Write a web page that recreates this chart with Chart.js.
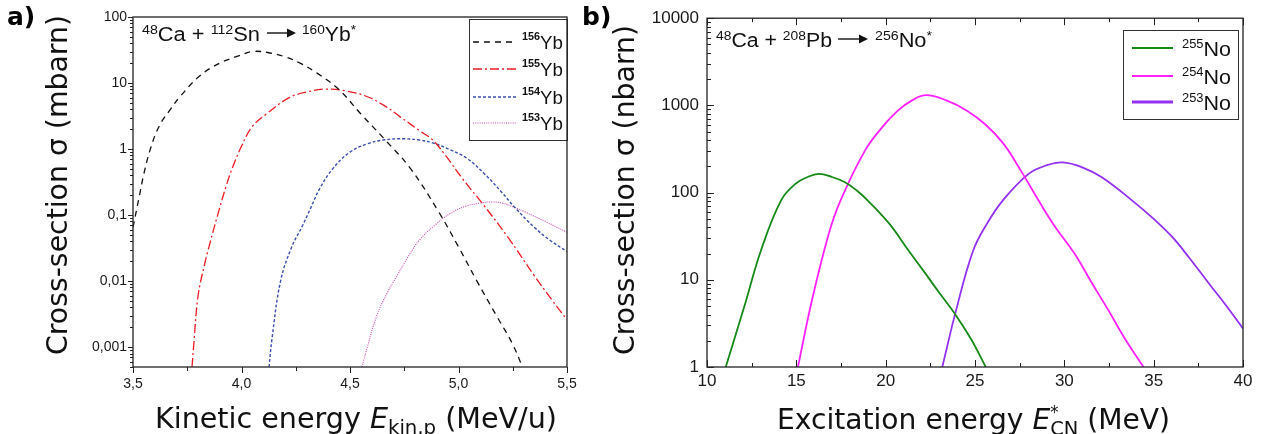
<!DOCTYPE html>
<html>
<head>
<meta charset="utf-8">
<script src="https://cdn.jsdelivr.net/npm/chart.js@4.4.1/dist/chart.umd.min.js"></script>
<style>
  html, body { margin: 0; padding: 0; background: #fff; }
  #wrap { position: relative; width: 1263px; height: 434px; overflow: hidden; }
  canvas { position: absolute; top: 0; }
  #chartA { left: 0; width: 590px; height: 434px; }
  #chartB { left: 590px; width: 673px; height: 434px; }
  .tag { position: absolute; top: 2px; font: bold 25px 'DejaVu Sans', sans-serif; color: #000; }
</style>
</head>
<body>
<div id="wrap">
  <canvas id="chartA" width="590" height="434"></canvas>
  <canvas id="chartB" width="673" height="434"></canvas>
  <div class="tag" style="left:7px">a)</div>
  <div class="tag" style="left:582px">b)</div>
</div>
<script>
// ---- panel a: 48Ca + 112Sn, cross-section in mbarn vs kinetic energy (MeV/u)
var yb156E     = [3.50, 3.53, 3.55, 3.58, 3.62, 3.67, 3.72, 3.81, 3.90, 3.99, 4.05, 4.12, 4.20, 4.27, 4.35, 4.45, 4.55, 4.66, 4.78, 4.91, 5.00, 5.085, 5.18, 5.25, 5.30];
var yb156Sigma = [0.065, 0.2, 0.42, 1.0, 2.2, 3.9, 6.4, 13, 20, 26, 30, 29, 25, 20, 14, 7.9, 3.4, 1.4, 0.5, 0.11, 0.033, 0.01, 0.0028, 0.0011, 0.00045];

var yb155E     = [3.772, 3.78, 3.80, 3.83, 3.855, 3.89, 3.93, 3.96, 4.00, 4.05, 4.12, 4.22, 4.30, 4.39, 4.48, 4.58, 4.66, 4.73, 4.82, 4.88, 4.94, 5.02, 5.11, 5.23, 5.35, 5.43, 5.50];
var yb155Sigma = [0.0005, 0.0011, 0.006, 0.018, 0.038, 0.1, 0.28, 0.54, 1.1, 2.2, 3.5, 6.0, 7.3, 8.1, 7.6, 6.2, 4.5, 3.1, 1.9, 1.38, 0.8, 0.35, 0.15, 0.045, 0.012, 0.0052, 0.0026];

var yb154E     = [4.127, 4.14, 4.18, 4.23, 4.28, 4.32, 4.36, 4.42, 4.50, 4.58, 4.66, 4.75, 4.82, 4.88, 4.96, 5.04, 5.12, 5.20, 5.26, 5.35, 5.42, 5.50];
var yb154Sigma = [0.0005, 0.0013, 0.01, 0.032, 0.068, 0.13, 0.25, 0.5, 0.9, 1.2, 1.38, 1.43, 1.37, 1.24, 0.98, 0.72, 0.42, 0.22, 0.13, 0.065, 0.042, 0.028];

var yb153E     = [4.555, 4.58, 4.62, 4.67, 4.72, 4.77, 4.82, 4.89, 4.96, 5.03, 5.10, 5.15, 5.20, 5.26, 5.31, 5.40, 5.50];
var yb153Sigma = [0.0005, 0.001, 0.0028, 0.0065, 0.0126, 0.024, 0.042, 0.07, 0.105, 0.135, 0.152, 0.158, 0.152, 0.13, 0.11, 0.08, 0.055];

var xTicksA = [3.5, 4.0, 4.5, 5.0, 5.5];
var xTickLabelsA = ['3,5', '4,0', '4,5', '5,0', '5,5'];
var yTicksA = [0.001, 0.01, 0.1, 1, 10, 100];
var yTickLabelsA = ['0,001', '0,01', '0,1', '1', '10', '100'];

// ---- panel b: 48Ca + 208Pb, cross-section in nbarn vs excitation energy (MeV)
var no255E     = [11.05, 12.07, 13.02, 14.14, 14.95, 15.6, 16.26, 17.0, 17.7, 18.4, 19.0, 20.2, 21.3, 22.2, 23.0, 23.9, 24.8, 25.6];
var no255Sigma = [1, 4.8, 21.7, 81, 126, 150, 164, 151, 132, 105, 81, 44, 21.4, 12, 7.1, 4.0, 2.05, 1];

var no254E     = [15.09, 15.87, 16.82, 17.47, 18.84, 19.8, 20.68, 21.5, 22.26, 23.4, 24.55, 25.6, 26.6, 27.6, 28.56, 29.5, 30.57, 31.5, 32.47, 33.4, 34.43];
var no254Sigma = [1, 5.8, 34, 81, 303, 560, 870, 1150, 1310, 1140, 870, 600, 362, 174, 81, 40, 20, 9.5, 4.46, 2.1, 1];

var no253E     = [23.17, 23.94, 24.9, 25.7, 26.55, 28.0, 29.0, 29.9, 31.0, 32.1, 33.8, 35.0, 36.0, 37.0, 38.2, 39.0, 40.0];
var no253Sigma = [1, 4.46, 21.7, 45, 81, 164, 205, 222, 195, 150, 81, 50, 31.6, 17.8, 8.5, 5.25, 2.77];

var xTicksB = [10, 15, 20, 25, 30, 35, 40];
var xTickLabelsB = ['10', '15', '20', '25', '30', '35', '40'];
var yTicksB = [1, 10, 100, 1000, 10000];
var yTickLabelsB = ['1', '10', '100', '1000', '10000'];

function pts(xs, ys) {
    return xs.map(function(x, i) { return { x: x, y: ys[i] }; });
}

// text made of pieces (superscripts, subscripts, italics), stretched to a target width
function drawRich(ctx, segs, x, y, target, rot) {
    var pos = [], cur = 0;
    segs.forEach(function(s) {
        ctx.font = s.f;
        s.w = ctx.measureText(s.t).width;
        pos.push(cur);
        if (!s.stay) cur += s.w;
    });
    var k = target ? target / cur : 1;
    ctx.save();
    ctx.translate(x, y);
    if (rot) ctx.rotate(rot);
    ctx.scale(k, 1);
    ctx.fillStyle = '#111';
    ctx.textAlign = 'left';
    ctx.textBaseline = 'alphabetic';
    segs.forEach(function(s, i) {
        ctx.font = s.f;
        ctx.fillText(s.t, pos[i], s.dy || 0);
    });
    ctx.restore();
}

function arrow(ctx, x1, x2, y) {
    ctx.save();
    ctx.strokeStyle = '#111';
    ctx.fillStyle = '#111';
    ctx.lineWidth = 1.4;
    ctx.beginPath();
    ctx.moveTo(x1, y);
    ctx.lineTo(x2 - 6, y);
    ctx.stroke();
    ctx.beginPath();
    ctx.moveTo(x2, y);
    ctx.lineTo(x2 - 9, y - 4.5);
    ctx.lineTo(x2 - 9, y + 4.5);
    ctx.closePath();
    ctx.fill();
    ctx.restore();
}

var TITLE = "29px 'DejaVu Sans', sans-serif";
var TITLE_IT = "italic 29px 'DejaVu Sans', sans-serif";
var TITLE_SUB = "20px 'DejaVu Sans', sans-serif";
var TITLE_STAR = "17px 'DejaVu Sans', sans-serif";

// frame, tick marks, legend and labels
var axisMarks = {
    id: 'axisMarks',
    afterDatasetsDraw: function(chart, args, o) {
        var ctx = chart.ctx;
        // legend
        var L = o.legend;
        ctx.save();
        ctx.fillStyle = '#fff';
        ctx.fillRect(L.x, L.y, L.w, L.h);
        ctx.strokeStyle = '#333';
        ctx.lineWidth = 1;
        ctx.strokeRect(L.x + 0.5, L.y + 0.5, L.w, L.h);
        L.rows.forEach(function(r, i) {
            var ds = chart.data.datasets[i];
            ctx.save();
            ctx.strokeStyle = ds.borderColor;
            ctx.lineWidth = r.lw || ds.borderWidth;
            ctx.setLineDash(ds.borderDash || []);
            ctx.beginPath();
            ctx.moveTo(L.lineX[0], r.y);
            ctx.lineTo(L.lineX[1], r.y);
            ctx.stroke();
            ctx.restore();
            drawRich(ctx, [
                { t: r.mass, f: L.supFont, dy: L.supDy },
                { t: r.sym, f: L.font }
            ], L.textX, r.y + L.baseDy, L.textW);
        });
        ctx.restore();
    },
    afterDraw: function(chart, args, o) {
        var ctx = chart.ctx, a = chart.chartArea;
        var xs = chart.scales.x, ys = chart.scales.y;
        ctx.save();
        ctx.strokeStyle = '#222';
        ctx.lineWidth = 1.3;
        ctx.strokeRect(a.left, a.top, a.right - a.left, a.bottom - a.top);

        ctx.lineWidth = 1;
        ctx.beginPath();
        var majX = xs.ticks.map(function(t) { return t.value; });
        var minX = [];
        for (var i = 1; i < majX.length; i++) minX.push((majX[i - 1] + majX[i]) / 2);
        function tx(v, len) {
            var px = Math.round(xs.getPixelForValue(v)) + 0.5;
            ctx.moveTo(px, a.bottom);
            ctx.lineTo(px, a.bottom + len * o.xDir);
            if (o.top) {
                ctx.moveTo(px, a.top);
                ctx.lineTo(px, a.top + len);
            }
        }
        majX.forEach(function(v) { tx(v, o.xLen[0]); });
        minX.forEach(function(v) { tx(v, o.xLen[1]); });

        function ty(v, len) {
            var py = Math.round(ys.getPixelForValue(v)) + 0.5;
            ctx.moveTo(a.left, py);
            ctx.lineTo(a.left - len * o.yDir, py);
        }
        var lo = Math.floor(Math.log10(ys.min)), hi = Math.ceil(Math.log10(ys.max));
        for (var d = lo; d <= hi; d++) {
            for (var m = 1; m <= 9; m++) {
                var v = m * Math.pow(10, d);
                if (v < ys.min * 0.999 || v > ys.max * 1.001) continue;
                ty(v, m === 1 ? o.yLen[0] : o.yLen[1]);
            }
        }
        ctx.stroke();
        ctx.restore();

        // reaction label
        var R = o.reaction;
        drawRich(ctx, R.left, R.x1, R.base, R.w1);
        arrow(ctx, R.ax[0], R.ax[1], R.base - 8);
        drawRich(ctx, R.right, R.x2, R.base, R.w2);

        // axis titles
        drawRich(ctx, o.xTitle, o.xTitleX, o.xTitleY, o.xTitleW);
        drawRich(ctx, [{ t: o.yTitle, f: TITLE }], o.yTitleX, o.yTitleY, o.yTitleW, -Math.PI / 2);
    }
};

function baseOptions(pad, xMin, xMax, xTicks, xLabels, yMin, yMax, yTicks, yLabels, fonts) {
    return {
        responsive: false,
        animation: false,
        layout: { padding: pad },
        elements: { point: { radius: 0 }, line: { tension: 0.4 } },
        plugins: { legend: { display: false }, tooltip: { enabled: false } },
        scales: {
            x: {
                type: 'linear', min: xMin, max: xMax,
                grid: { display: false, drawTicks: false },
                border: { display: false },
                afterBuildTicks: function(s) { s.ticks = xTicks.map(function(v) { return { value: v }; }); },
                afterFit: function(s) { s.height = 30; },
                ticks: {
                    padding: fonts.xPad, color: '#1a1a1a', maxRotation: 0, autoSkip: false,
                    font: { family: "'Liberation Sans', Arial, sans-serif", size: fonts.x },
                    callback: function(v, i) { return xLabels[i]; }
                }
            },
            y: {
                type: 'logarithmic', min: yMin, max: yMax,
                grid: { display: false, drawTicks: false },
                border: { display: false },
                afterBuildTicks: function(s) { s.ticks = yTicks.map(function(v) { return { value: v }; }); },
                afterFit: function(s) { s.width = fonts.yW; },
                ticks: {
                    padding: fonts.yPad, color: '#1a1a1a', autoSkip: false,
                    font: { family: "'Liberation Sans', Arial, sans-serif", size: fonts.y },
                    callback: function(v, i) { return yLabels[i]; }
                }
            }
        }
    };
}

// ---- chart a
var optA = baseOptions({ left: 73, right: 23, top: 17, bottom: 37 },
    3.5, 5.5, xTicksA, xTickLabelsA, 0.0005, 100, yTicksA, yTickLabelsA,
    { x: 14, y: 14, xPad: 9, yPad: 6, yW: 60 });
var SUP_A = "13px 'Liberation Sans', Arial, sans-serif";
var TXT_A = "20px 'Liberation Sans', Arial, sans-serif";
optA.plugins.axisMarks = {
    xDir: 1, xLen: [6, 4], yDir: 1, yLen: [5, 3], top: false,
    legend: {
        x: 469, y: 19, w: 98, h: 121, lineX: [473, 517], textX: 522, textW: 41,
        font: "19px 'Liberation Sans', Arial, sans-serif",
        supFont: "bold 11px 'Liberation Sans', Arial, sans-serif", supDy: -9, baseDy: 6.5,
        rows: [
            { y: 42, mass: '156', sym: 'Yb' },
            { y: 69, mass: '155', sym: 'Yb' },
            { y: 97, mass: '154', sym: 'Yb' },
            { y: 123, mass: '153', sym: 'Yb' }
        ]
    },
    reaction: {
        base: 41, x1: 142, w1: 118, x2: 302, w2: 54, ax: [267, 296],
        left: [
            { t: '48', f: SUP_A, dy: -7 }, { t: 'Ca + ', f: TXT_A },
            { t: '112', f: SUP_A, dy: -7 }, { t: 'Sn', f: TXT_A }
        ],
        right: [
            { t: '160', f: SUP_A, dy: -7 }, { t: 'Yb', f: TXT_A }, { t: '*', f: SUP_A, dy: -7 }
        ]
    },
    xTitle: [
        { t: 'Kinetic energy ', f: TITLE }, { t: 'E', f: TITLE_IT },
        { t: 'kin,p', f: TITLE_SUB, dy: 6 }, { t: ' (MeV/u)', f: TITLE }
    ],
    xTitleX: 155, xTitleY: 428, xTitleW: 402,
    yTitle: 'Cross-section σ (mbarn)', yTitleX: 67, yTitleY: 355, yTitleW: 340
};

new Chart(document.getElementById('chartA'), {
    type: 'line',
    data: {
        datasets: [
            { label: '156Yb', data: pts(yb156E, yb156Sigma), tension: 0.4, borderColor: '#111', borderWidth: 1.3, borderDash: [6, 5] },
            { label: '155Yb', data: pts(yb155E, yb155Sigma), tension: 0.4, borderColor: '#ec1c24', borderWidth: 1.3, borderDash: [9, 3, 2, 3] },
            { label: '154Yb', data: pts(yb154E, yb154Sigma), tension: 0.4, borderColor: '#3a4fb0', borderWidth: 1.4, borderDash: [3, 2] },
            { label: '153Yb', data: pts(yb153E, yb153Sigma), tension: 0.4, borderColor: '#c44aae', borderWidth: 1.1, borderDash: [1, 1.2] }
        ]
    },
    options: optA,
    plugins: [axisMarks]
});

// ---- chart b (canvas starts at x = 590)
var optB = baseOptions({ left: 47, right: 20, top: 17, bottom: 37 },
    10, 40, xTicksB, xTickLabelsB, 1, 10000, yTicksB, yTickLabelsB,
    { x: 17, y: 17, xPad: 4, yPad: 8, yW: 70 });
var SUP_B = "13px 'Liberation Sans', Arial, sans-serif";
var TXT_B = "20px 'Liberation Sans', Arial, sans-serif";
optB.plugins.axisMarks = {
    xDir: -1, xLen: [7, 4], yDir: -1, yLen: [7, 4], top: true,
    legend: {
        x: 533, y: 30, w: 115, h: 89, lineX: [542, 583], textX: 592, textW: 49,
        font: "20px 'Liberation Sans', Arial, sans-serif",
        supFont: "12px 'Liberation Sans', Arial, sans-serif", supDy: -8, baseDy: 7.5,
        rows: [
            { y: 48, mass: '255', sym: 'No' },
            { y: 76, mass: '254', sym: 'No' },
            { y: 102, mass: '253', sym: 'No', lw: 3 }
        ]
    },
    reaction: {
        base: 47, x1: 126, w1: 116, x2: 285, w2: 57, ax: [248, 278],
        left: [
            { t: '48', f: SUP_B, dy: -7 }, { t: 'Ca + ', f: TXT_B },
            { t: '208', f: SUP_B, dy: -7 }, { t: 'Pb', f: TXT_B }
        ],
        right: [
            { t: '256', f: SUP_B, dy: -7 }, { t: 'No', f: TXT_B }, { t: '*', f: SUP_B, dy: -7 }
        ]
    },
    xTitle: [
        { t: 'Excitation energy ', f: TITLE }, { t: 'E', f: TITLE_IT },
        { t: '*', f: TITLE_STAR, dy: -11, stay: true }, { t: 'CN', f: TITLE_SUB, dy: 6 },
        { t: ' (MeV)', f: TITLE }
    ],
    xTitleX: 187, xTitleY: 429, xTitleW: 393,
    yTitle: 'Cross-section σ (nbarn)', yTitleX: 44, yTitleY: 355, yTitleW: 330
};

new Chart(document.getElementById('chartB'), {
    type: 'line',
    data: {
        datasets: [
            { label: '255No', data: pts(no255E, no255Sigma), tension: 0.4, borderColor: '#168a16', borderWidth: 1.8 },
            { label: '254No', data: pts(no254E, no254Sigma), tension: 0.4, borderColor: '#ff22ff', borderWidth: 1.8 },
            { label: '253No', data: pts(no253E, no253Sigma), tension: 0.4, borderColor: '#9430f2', borderWidth: 1.8 }
        ]
    },
    options: optB,
    plugins: [axisMarks]
});
</script>
</body>
</html>
